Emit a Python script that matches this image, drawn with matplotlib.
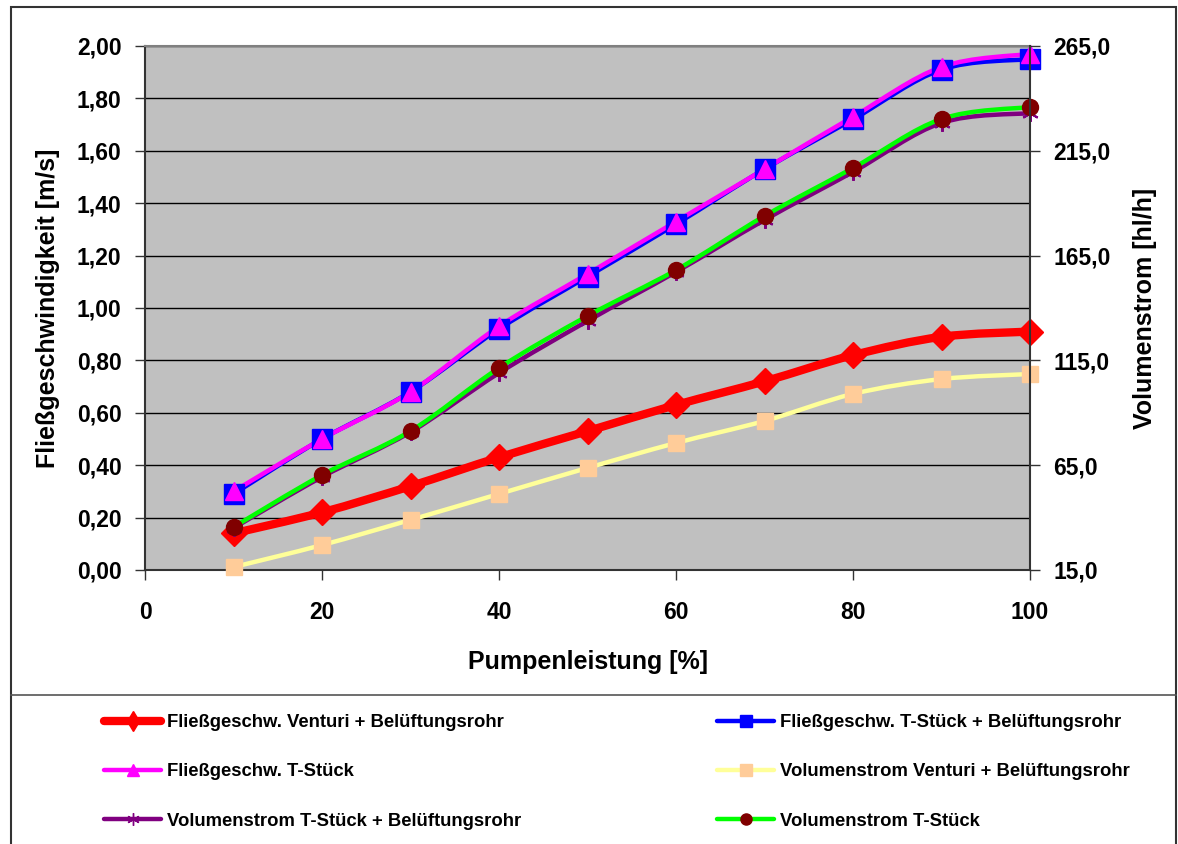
import matplotlib
matplotlib.use("Agg")
import matplotlib.pyplot as plt
from matplotlib.path import Path
from matplotlib.patches import PathPatch, Rectangle
from matplotlib.lines import Line2D
from matplotlib.ticker import FixedLocator, FuncFormatter

plt.rcParams['font.family'] = ['Liberation Sans', 'DejaVu Sans']
plt.rcParams['font.weight'] = 'bold'

# Pump power [%]
pump = [10, 20, 30, 40, 50, 60, 70, 80, 90, 100]

# Flow velocity [m/s] (left axis)
v_venturi_bel = [0.14, 0.22, 0.32, 0.43, 0.53, 0.63, 0.72, 0.82, 0.89, 0.91]
v_tstueck_bel = [0.29, 0.50, 0.68, 0.92, 1.12, 1.32, 1.53, 1.72, 1.91, 1.95]
v_tstueck = [0.30, 0.50, 0.68, 0.93, 1.13, 1.33, 1.53, 1.73, 1.92, 1.97]

# Volume flow [hl/h] (right axis)
q_venturi_bel = [16.4, 26.9, 38.9, 51.3, 63.7, 75.6, 86.1, 99.0, 106.1, 108.5]
q_tstueck_bel = [35.0, 59.4, 80.8, 109.0, 133.8, 157.2, 182.0, 204.9, 228.3, 233.0]
q_tstueck = [35.5, 60.3, 81.3, 111.4, 136.2, 158.1, 183.9, 206.8, 230.2, 235.9]

labels = [
    "Fließgeschw. Venturi + Belüftungsrohr",
    "Fließgeschw. T-Stück + Belüftungsrohr",
    "Fließgeschw. T-Stück",
    "Volumenstrom Venturi + Belüftungsrohr",
    "Volumenstrom T-Stück + Belüftungsrohr",
    "Volumenstrom T-Stück",
]

left_ticks = [0.0, 0.2, 0.4, 0.6, 0.8, 1.0, 1.2, 1.4, 1.6, 1.8, 2.0]
right_ticks = [15, 65, 115, 165, 215, 265]
x_ticks = [0, 20, 40, 60, 80, 100]


def smooth_path(xs, ys):
    """Cubic Bezier path through the points (Catmull-Rom tangents)."""
    n = len(xs)
    verts = [(xs[0], ys[0])]
    codes = [Path.MOVETO]
    for i in range(n - 1):
        x0, y0 = xs[max(i - 1, 0)], ys[max(i - 1, 0)]
        x1, y1 = xs[i], ys[i]
        x2, y2 = xs[i + 1], ys[i + 1]
        x3, y3 = xs[min(i + 2, n - 1)], ys[min(i + 2, n - 1)]
        c1 = (x1 + (x2 - x0) / 6.0, y1 + (y2 - y0) / 6.0)
        c2 = (x2 - (x3 - x1) / 6.0, y2 - (y3 - y1) / 6.0)
        verts += [c1, c2, (x2, y2)]
        codes += [Path.CURVE4, Path.CURVE4, Path.CURVE4]
    return Path(verts, codes)


def draw_series(ax, xs, ys, color, lw, marker, ms, mfc, mec, mew=1.0):
    patch = PathPatch(smooth_path(xs, ys), facecolor='none', edgecolor=color,
                      lw=lw, capstyle='round', joinstyle='round')
    ax.add_patch(patch)
    ax.plot(xs, ys, linestyle='none', marker=marker, markersize=ms,
            markerfacecolor=mfc, markeredgecolor=mec, markeredgewidth=mew,
            clip_on=False, zorder=patch.get_zorder() + 0.1)


W, H = 1178, 844
fig = plt.figure(figsize=(W / 100, H / 100), dpi=100)
fig.patch.set_facecolor('white')

TICK_FS = 16.5
LABEL_FS = 18

ax = fig.add_axes([145 / W, 1 - 570 / H, 885 / W, 524 / H])
ax.set_facecolor('#C0C0C0')
ax.set_xlim(0, 100)
ax.set_ylim(0, 2.0)
ax.xaxis.set_major_locator(FixedLocator(x_ticks))
ax.yaxis.set_major_locator(FixedLocator(left_ticks))
ax.yaxis.set_major_formatter(FuncFormatter(lambda v, p: f"{v:.2f}".replace('.', ',')))
ax.grid(axis='y', color='black', lw=1.0)
ax.set_axisbelow(True)
ax.tick_params(axis='both', direction='out', length=7, width=1, labelsize=TICK_FS, color='#333333')
ax.tick_params(axis='x', pad=15)
ax.tick_params(axis='y', pad=10)
for s in ('left', 'bottom'):
    ax.spines[s].set_color('#333333')
    ax.spines[s].set_linewidth(1.5)
ax.spines['top'].set_color('#808080')
ax.spines['top'].set_linewidth(1.5)
ax.spines['right'].set_visible(False)

ax.set_xlabel("Pumpenleistung [%]", fontsize=LABEL_FS, fontweight='bold', labelpad=19)
ax.set_ylabel("Fließgeschwindigkeit [m/s]", fontsize=LABEL_FS, fontweight='bold', labelpad=12)

ax2 = ax.twinx()
ax2.set_ylim(15, 265)
ax2.yaxis.set_major_locator(FixedLocator(right_ticks))
ax2.yaxis.set_major_formatter(FuncFormatter(lambda v, p: f"{v:.1f}".replace('.', ',')))
ax2.tick_params(axis='y', direction='out', length=7, width=1, labelsize=TICK_FS, pad=10, color='#333333')
ax2.spines['right'].set_color('#333333')
ax2.spines['right'].set_linewidth(1.5)
for s in ('left', 'top', 'bottom'):
    ax2.spines[s].set_visible(False)
ax2.set_ylabel("Volumenstrom [hl/h]", fontsize=LABEL_FS, fontweight='bold', labelpad=16)

# velocity series (left axis)
draw_series(ax, pump, v_venturi_bel, '#FF0000', 6.0, 'D', 13, '#FF0000', '#FF0000')
draw_series(ax, pump, v_tstueck_bel, '#0000FF', 3.2, 's', 14, '#0000FF', '#0000FF')
draw_series(ax, pump, v_tstueck, '#FF00FF', 3.2, '^', 13.5, '#FF00FF', '#FF00FF')
# volume flow series (right axis)
draw_series(ax2, pump, q_venturi_bel, '#FFFF99', 3.2, 's', 11, '#FFCC99', '#FFCC99')
draw_series(ax2, pump, q_tstueck_bel, '#800080', 3.2, (6, 2, 0), 12, '#800080', '#800080', 1.5)
draw_series(ax2, pump, q_tstueck, '#00FF00', 3.2, 'o', 11.5, '#800000', '#800000')

# legend handles
def handle(color, lw, marker, ms, mfc):
    return Line2D([], [], color=color, lw=lw, marker=marker, markersize=ms,
                  markerfacecolor=mfc, markeredgecolor=mfc, solid_capstyle='round')

h_red = handle('#FF0000', 6.0, 'd', 10, '#FF0000')
h_blue = handle('#0000FF', 3.2, 's', 8, '#0000FF')
h_mag = handle('#FF00FF', 3.2, '^', 9, '#FF00FF')
h_yel = handle('#FFFF99', 3.2, 's', 8, '#FFCC99')
h_pur = handle('#800080', 3.2, (6, 2, 0), 9, '#800080')
h_grn = handle('#00FF00', 3.2, 'o', 8, '#800000')

LEG_FS = 13.3
leg_kw = dict(frameon=False, handlelength=3.1, handletextpad=0.3,
              labelspacing=1.75, borderpad=0, borderaxespad=0, loc='upper left',
              prop={'weight': 'bold', 'size': LEG_FS})
leg1 = fig.legend([h_red, h_mag, h_pur], [labels[0], labels[2], labels[4]],
                  bbox_to_anchor=(104 / W, 1 - 714 / H), **leg_kw)
leg2 = fig.legend([h_blue, h_yel, h_grn], [labels[1], labels[3], labels[5]],
                  bbox_to_anchor=(717 / W, 1 - 714 / H), **leg_kw)

# figure frame and legend separator
fig.add_artist(Rectangle((11 / W, -0.01), (1176 - 11) / W, 1 - 7 / H + 0.01,
                         transform=fig.transFigure, fill=False,
                         edgecolor='#333333', lw=1.5))
fig.add_artist(Line2D([11 / W, 1176 / W], [1 - 695 / H, 1 - 695 / H],
                      transform=fig.transFigure, color='#555555', lw=1.2))

fig.savefig("out.png", dpi=100)
